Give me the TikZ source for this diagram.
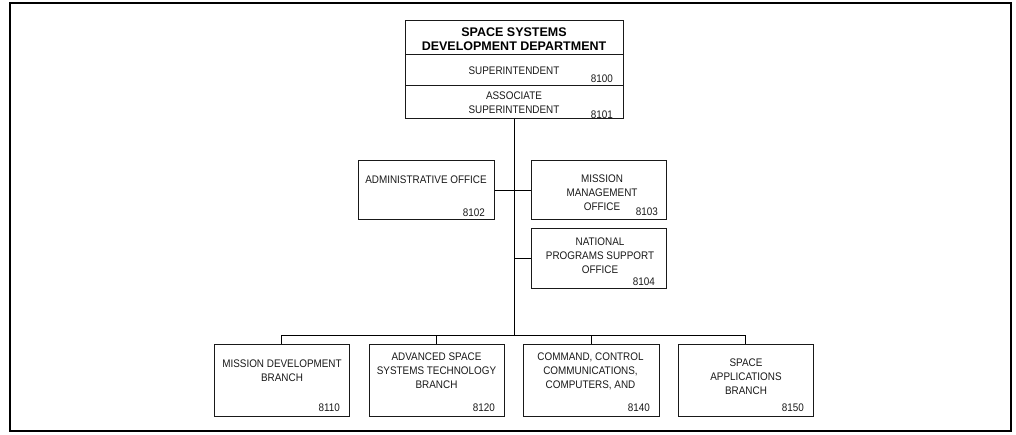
\documentclass[tikz,border=0pt]{standalone}
\usepackage{fontspec}
\setmainfont{Liberation Sans}
\newfontfamily\narrowfont[FakeStretch=0.9]{Liberation Sans}
\begin{document}
\begin{tikzpicture}[x=1pt,y=-1pt,
  box/.style={draw=black!90,line width=1pt,rectangle,inner sep=0pt},
  txt/.style={inner sep=0pt,align=center,font=\narrowfont\fontsize{11}{14}\selectfont,text=black!90},
  num/.style={inner sep=0pt,anchor=east,font=\narrowfont\fontsize{11}{14}\selectfont,text=black!90},
  conn/.style={draw=black,line width=1pt}]
\useasboundingbox (0,0) rectangle (1016,435);
\draw[line width=2.5pt] (10,3) rectangle (1011,431);
% top box
\node[box,minimum width=218pt,minimum height=98pt] (top) at (514,70) {};
\draw[black!90,line width=1pt] (405,55) -- (623,55);
\draw[black!90,line width=1pt] (405,86) -- (623,86);
\node[txt,font=\fontsize{12.5}{14}\selectfont\bfseries,text=black] (title) at (514,39) {SPACE SYSTEMS\\DEVELOPMENT DEPARTMENT};
\node[txt] (sup) at (514,71) {SUPERINTENDENT};
\node[num] (n8100) at (613,79) {8100};
\node[txt] (asup) at (514,102.5) {ASSOCIATE\\SUPERINTENDENT};
\node[num] (n8101) at (613,115) {8101};
% offices
\node[box,minimum width=136pt,minimum height=59pt] (admin) at (426,190.5) {};
\node[txt] at (426,180) {ADMINISTRATIVE OFFICE};
\node[num] at (485,213) {8102};
\node[box,minimum width=135pt,minimum height=59pt] (mm) at (598.5,190.5) {};
\node[txt] at (602,193) {MISSION\\MANAGEMENT\\OFFICE};
\node[num] at (658,212) {8103};
\node[box,minimum width=135pt,minimum height=60pt] (nat) at (598.5,259) {};
\node[txt] at (600,256) {NATIONAL\\PROGRAMS SUPPORT\\OFFICE};
\node[num] at (655,282) {8104};
% branches
\node[box,minimum width=135pt,minimum height=72pt] (b1) at (281.5,380) {};
\node[txt] at (282,371) {MISSION DEVELOPMENT\\BRANCH};
\node[num] at (340,408) {8110};
\node[box,minimum width=135pt,minimum height=72pt] (b2) at (436.5,380) {};
\node[txt] at (436.5,371) {ADVANCED SPACE\\SYSTEMS TECHNOLOGY\\BRANCH};
\node[num] at (495,408) {8120};
\node[box,minimum width=136pt,minimum height=72pt] (b3) at (591,380) {};
\node[txt] at (590.5,371) {COMMAND, CONTROL\\COMMUNICATIONS,\\COMPUTERS, AND};
\node[num] at (650,408) {8140};
\node[box,minimum width=135pt,minimum height=72pt] (b4) at (745.5,380) {};
\node[txt] at (746,377) {SPACE\\APPLICATIONS\\BRANCH};
\node[num] at (804,408) {8150};
% connectors
\coordinate (bus) at (514,335);
\draw[conn] (top.south) -- (top.south |- bus);
\draw[conn] (admin.east) -- (mm.west);
\draw[conn] (nat.west) -- (nat.west -| top.south);
\draw[conn] (b1.north) -- (b1.north |- bus) -- (b4.north |- bus) -- (b4.north);
\draw[conn] (b2.north) -- (b2.north |- bus);
\draw[conn] (b3.north) -- (b3.north |- bus);
\end{tikzpicture}
\end{document}
